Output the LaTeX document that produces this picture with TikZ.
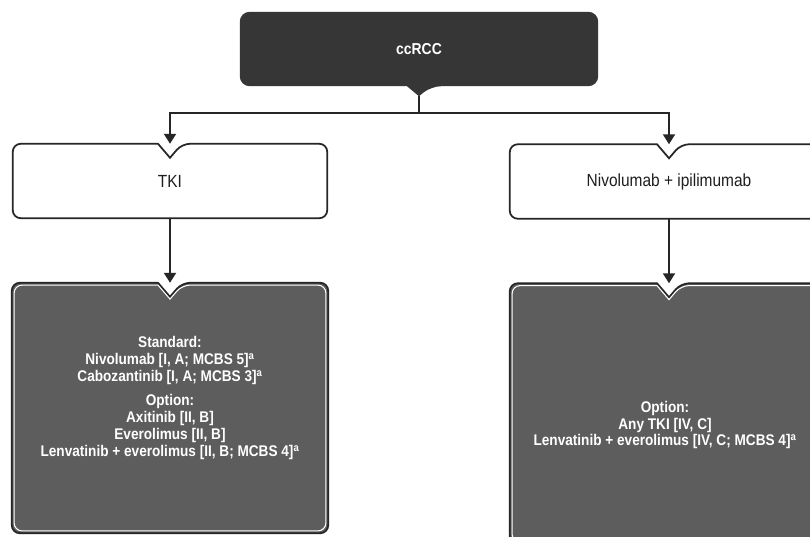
\documentclass[tikz,border=0pt]{standalone}
\usepackage{fontspec}
\setmainfont[FakeStretch=0.88]{Liberation Sans}
\usepackage{xcolor}
\usetikzlibrary{positioning, arrows.meta, calc}
\definecolor{rootfill}{HTML}{363636}
\definecolor{optfill}{HTML}{5D5D5D}
\definecolor{edgedark}{HTML}{262626}
\definecolor{textdark}{HTML}{1E1E1E}

\pgfdeclarelayer{background}
\pgfsetlayers{background,main}

% box outline with a notch in the top edge; #1 node, #2 inset
\newcommand{\notchoutline}[2]{%
  ($(#1.north)+(-3.6mm,-#2)$) [rounded corners=2.4mm]
  -- ($(#1.north west)+(#2,-#2)$) -- ($(#1.south west)+(#2,#2)$)
  -- ($(#1.south east)+(-#2,#2)$) -- ($(#1.north east)+(-#2,-#2)$)
  -- ($(#1.north)+(3.6mm,-#2)$) [sharp corners]
  -- ($(#1.north)+(0,-4.2mm-#2)$) -- cycle}

\begin{document}
\begin{tikzpicture}[x=0.3mm, y=-0.3mm,
    rootbox/.style={minimum width=107.4mm, minimum height=22.2mm, inner sep=0pt,
      text=white, font=\bfseries\fontsize{13.5}{15}\selectfont},
    drugbox/.style={minimum width=#1, minimum height=22.2mm, inner sep=0pt,
      text=textdark, font=\fontsize{15}{17}\selectfont},
    optbox/.style={inner sep=0pt},
    optlist/.style={text=white, align=center, inner sep=0pt,
      font=\bfseries\fontsize{13.2}{14.5}\selectfont},
    link/.style={draw=edgedark, line width=0.6mm},
    arrowlink/.style={link, -{Triangle[width=3.6mm,length=3mm]}}]
  \useasboundingbox (0,0) rectangle (810,536);

  % boxes
  \node[rootbox] (root) at (419,49) {ccRCC};
  \coordinate (roottip) at ($(root.south)+(0,-3mm)$);
  \node[drugbox=94.2mm] (tki) at (170,181) {TKI};
  \node[drugbox=95.4mm] (nivo) at (669,181.5) {Nivolumab + ipilimumab};
  \node[optbox, minimum width=94.8mm, minimum height=75mm] (tkiopt) at (170,408) {};
  \node[optbox, minimum width=95.4mm, minimum height=78.3mm] (nivoopt) at (669,414) {};

  \node[optlist] (tkilist) at (170,398) {%
    Standard:\\
    Nivolumab [I, A; MCBS 5]\textsuperscript{a}\\
    Cabozantinib [I, A; MCBS 3]\textsuperscript{a}\\[6pt]
    Option:\\
    Axitinib [II, B]\\
    Everolimus [II, B]\\
    Lenvatinib + everolimus [II, B; MCBS 4]\textsuperscript{a}};
  \node[optlist] (nivolist) at (665,425) {%
    Option:\\
    Any TKI [IV, C]\\
    Lenvatinib + everolimus [IV, C; MCBS 4]\textsuperscript{a}};

  \begin{pgfonlayer}{background}
    \fill[white] (0,0) rectangle (810,536);
    \fill[rootfill, rounded corners=3mm] (root.north) -- (root.north east)
      -- (root.south east) -- ($(root.south)+(3.6mm,0)$) [sharp corners]
      -- (roottip) -- ($(root.south)+(-3.6mm,0)$) [rounded corners=3mm]
      -- (root.south west) -- (root.north west) -- cycle;
    \filldraw[fill=white, draw=edgedark, line width=1.5pt] \notchoutline{tki}{0mm};
    \filldraw[fill=white, draw=edgedark, line width=1.5pt] \notchoutline{nivo}{0mm};
    \filldraw[fill=optfill, draw=edgedark, line width=1.5pt] \notchoutline{tkiopt}{0mm};
    \draw[white, line width=0.9pt] \notchoutline{tkiopt}{0.7mm};
    \filldraw[fill=optfill, draw=edgedark, line width=1.5pt] \notchoutline{nivoopt}{0mm};
    \draw[white, line width=0.9pt] \notchoutline{nivoopt}{0.7mm};
  \end{pgfonlayer}

  % connectors
  \coordinate (split) at (419,113);
  \draw[link] (roottip) -- (split);
  \draw[arrowlink] (split) -| (tki.north);
  \draw[arrowlink] (split) -| (nivo.north);
  \draw[arrowlink] (tki.south) -- (tkiopt.north);
  \draw[arrowlink] (nivo.south) -- (nivoopt.north);
\end{tikzpicture}
\end{document}
